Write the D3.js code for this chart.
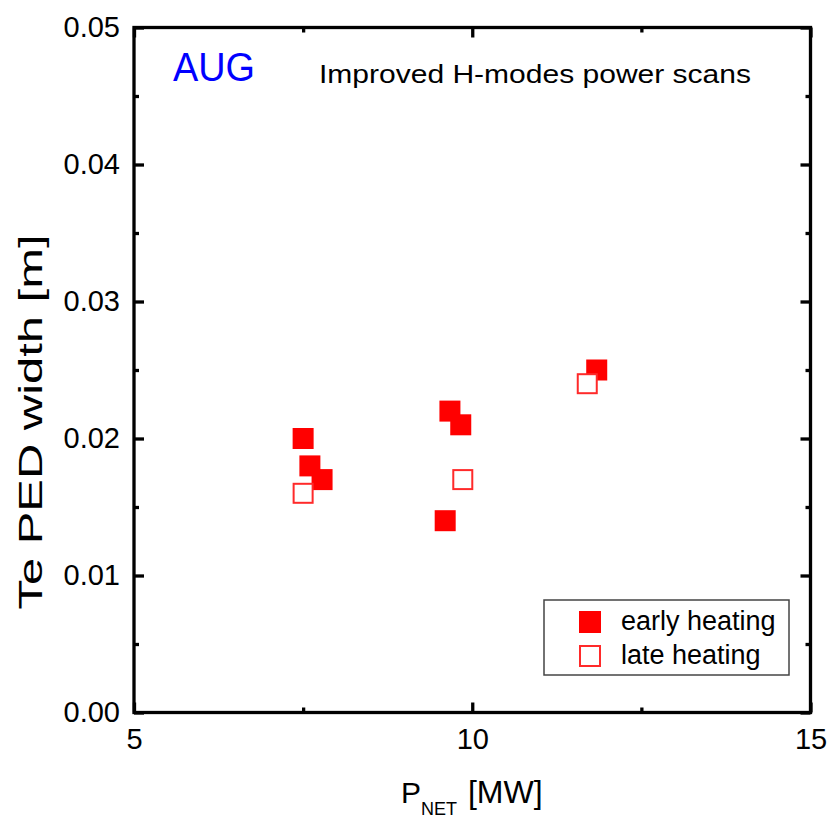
<!DOCTYPE html>
<html>
<head>
<meta charset="utf-8">
<script src="https://cdn.jsdelivr.net/npm/d3@7"></script>
<style>
  html, body { margin: 0; padding: 0; background: #fff; }
  svg { display: block; font-family: "Liberation Sans", Arial, Helvetica, sans-serif; }
</style>
</head>
<body>
<svg id="chart" width="832" height="818"></svg>
<script>
// Pedestal Te width vs net heating power, AUG improved H-mode power scans
const earlyX = [7.5, 7.6, 7.78, 9.6, 9.67, 9.83, 11.84];
const earlyY = [0.020, 0.018, 0.017, 0.014, 0.022, 0.021, 0.025];
const lateX = [7.5, 9.86, 11.7];
const lateY = [0.016, 0.017, 0.024];

const xTicks = [5, 10, 15];
const xMinorTicks = [7.5, 12.5];
const yTicks = [0, 0.01, 0.02, 0.03, 0.04, 0.05];
const yMinorTicks = [0.005, 0.015, 0.025, 0.035, 0.045];

const legendLabels = ["early heating", "late heating"];

const svg = d3.select("#chart");
const plotL = 134, plotR = 810.5, plotT = 27.5, plotB = 712.5;

const x = d3.scaleLinear().domain([5, 15]).range([plotL, plotR]);
const y = d3.scaleLinear().domain([0, 0.05]).range([plotB, plotT]);

const red = "#ff0000";
const axisW = 3.3;

function styleAxis(g) {
  g.select(".domain").remove();
  g.attr("font-size", 29).attr("font-family", null);
  g.selectAll(".tick line").attr("stroke", "#000").attr("stroke-width", axisW);
  g.selectAll(".tick text").attr("fill", "#000");
}

// major ticks with labels (bottom, left)
svg.append("g")
  .attr("transform", `translate(0,${plotB})`)
  .call(d3.axisBottom(x).tickValues(xTicks).tickFormat(d3.format("d")).tickSize(-10).tickPadding(15.5))
  .call(styleAxis);
svg.append("g")
  .attr("transform", `translate(${plotL},0)`)
  .call(d3.axisLeft(y).tickValues(yTicks).tickFormat(d3.format(".2f")).tickSize(-10).tickPadding(14))
  .call(styleAxis);

// mirrored major ticks (top, right)
svg.append("g")
  .attr("transform", `translate(0,${plotT})`)
  .call(d3.axisTop(x).tickValues(xTicks).tickFormat("").tickSize(-10))
  .call(styleAxis);
svg.append("g")
  .attr("transform", `translate(${plotR},0)`)
  .call(d3.axisRight(y).tickValues(yTicks).tickFormat("").tickSize(-10))
  .call(styleAxis);

// minor ticks on all sides
svg.append("g").attr("transform", `translate(0,${plotB})`)
  .call(d3.axisBottom(x).tickValues(xMinorTicks).tickFormat("").tickSize(-5)).call(styleAxis);
svg.append("g").attr("transform", `translate(0,${plotT})`)
  .call(d3.axisTop(x).tickValues(xMinorTicks).tickFormat("").tickSize(-5)).call(styleAxis);
svg.append("g").attr("transform", `translate(${plotL},0)`)
  .call(d3.axisLeft(y).tickValues(yMinorTicks).tickFormat("").tickSize(-5)).call(styleAxis);
svg.append("g").attr("transform", `translate(${plotR},0)`)
  .call(d3.axisRight(y).tickValues(yMinorTicks).tickFormat("").tickSize(-5)).call(styleAxis);

// frame
svg.append("rect")
  .attr("x", plotL).attr("y", plotT)
  .attr("width", plotR - plotL).attr("height", plotB - plotT)
  .attr("fill", "none").attr("stroke", "#000").attr("stroke-width", axisW);

// markers
const sq = 21;
const early = earlyX.map((v, i) => ({ x: v, y: earlyY[i] }));
const late = lateX.map((v, i) => ({ x: v, y: lateY[i] }));

svg.append("g").selectAll("rect")
  .data(early).join("rect")
  .attr("x", d => x(d.x) - sq / 2).attr("y", d => y(d.y) - sq / 2)
  .attr("width", sq).attr("height", sq)
  .attr("fill", red);

svg.append("g").selectAll("rect")
  .data(late).join("rect")
  .attr("x", d => x(d.x) - sq / 2 + 1).attr("y", d => y(d.y) - sq / 2 + 1)
  .attr("width", sq - 2).attr("height", sq - 2)
  .attr("fill", "#fff").attr("stroke", "#ff2a2a").attr("stroke-width", 2);

// annotations
svg.append("text").attr("x", 173).attr("y", 81)
  .attr("font-size", 40).attr("fill", "#0000ff")
  .attr("textLength", 82).attr("lengthAdjust", "spacingAndGlyphs").text("AUG");
svg.append("text").attr("x", 319).attr("y", 83)
  .attr("font-size", 26).attr("fill", "#000")
  .attr("textLength", 432).attr("lengthAdjust", "spacingAndGlyphs")
  .text("Improved H-modes power scans");

// axis titles
const xl = svg.append("text").attr("x", 401).attr("y", 803).attr("font-size", 30).attr("fill", "#000");
xl.append("tspan").text("P");
xl.append("tspan").attr("font-size", 18).attr("dy", 12).text("NET");
xl.append("tspan").attr("dy", -12).attr("dx", 2).attr("font-size", 32).text(" [MW]");

svg.append("text")
  .attr("transform", `translate(42,422) rotate(-90)`)
  .attr("text-anchor", "middle").attr("font-size", 34).attr("fill", "#000")
  .attr("textLength", 375).attr("lengthAdjust", "spacingAndGlyphs")
  .text("Te PED width [m]");

// legend
const lg = svg.append("g");
lg.append("rect").attr("x", 544).attr("y", 600).attr("width", 245).attr("height", 75)
  .attr("fill", "#fff").attr("stroke", "#444").attr("stroke-width", 1.5);
lg.append("rect").attr("x", 579).attr("y", 611).attr("width", 22).attr("height", 22).attr("fill", red);
lg.append("rect").attr("x", 580).attr("y", 646).attr("width", 20).attr("height", 20)
  .attr("fill", "#fff").attr("stroke", "#ff2a2a").attr("stroke-width", 2);
lg.selectAll("text.lab").data(legendLabels).join("text").attr("class", "lab")
  .attr("x", 621).attr("y", (d, i) => 630 + i * 34)
  .attr("font-size", 27).attr("fill", "#000").text(d => d);
</script>
</body>
</html>
